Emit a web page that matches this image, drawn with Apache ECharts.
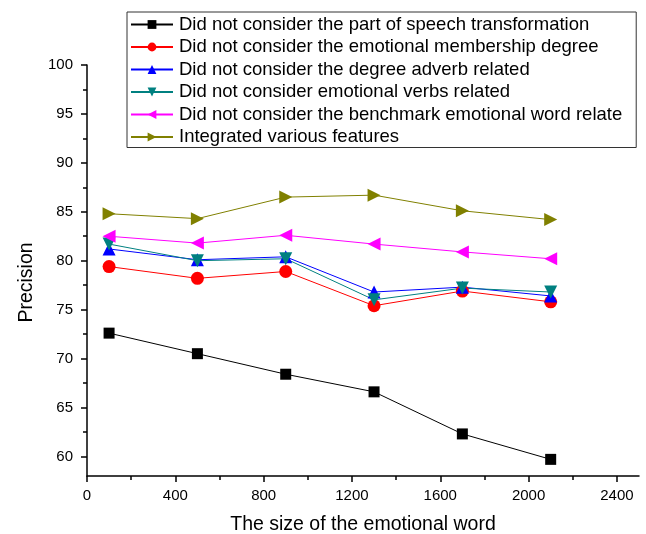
<!DOCTYPE html>
<html>
<head>
<meta charset="utf-8">
<script src="https://cdn.jsdelivr.net/npm/echarts@6/dist/echarts.min.js"></script>
<style>
  html, body { margin: 0; padding: 0; background: #fff; }
  #main { width: 646px; height: 534px; }
</style>
</head>
<body>
<div id="main"></div>
<script>
// word set sizes on the x axis
var sizes = [100, 500, 900, 1300, 1700, 2100];

var seriesNames = [
  'Did not consider the part of speech transformation',
  'Did not consider the emotional membership degree',
  'Did not consider the degree adverb related',
  'Did not consider emotional verbs related',
  'Did not consider the benchmark emotional word relate',
  'Integrated various features'
];

var noPos = [72.6, 70.5, 68.4, 66.6, 62.3, 59.7];
var noMembership = [79.4, 78.2, 78.9, 75.4, 76.9, 75.8];
var noAdverb = [81.2, 80.1, 80.4, 76.8, 77.3, 76.4];
var noVerbs = [81.7, 80.0, 80.2, 76.0, 77.2, 76.8];
var noBenchmark = [82.5, 81.8, 82.6, 81.7, 80.9, 80.2];
var integrated = [84.8, 84.3, 86.5, 86.7, 85.1, 84.2];

var xTicks = [0, 400, 800, 1200, 1600, 2000, 2400];
var xMinor = [200, 600, 1000, 1400, 1800, 2200];
var yTicks = [60, 65, 70, 75, 80, 85, 90, 95, 100];
var yMinor = [62.5, 67.5, 72.5, 77.5, 82.5, 87.5, 92.5, 97.5];

var font = 'Liberation Sans, Arial, sans-serif';

function pairs(vals) {
  return sizes.map(function (s, i) { return [s, vals[i]]; });
}

function makeSeries(name, vals, color, symbol, rotate) {
  return {
    name: name,
    type: 'line',
    data: pairs(vals),
    symbol: symbol,
    symbolSize: symbol === 'rect' ? 11 : 13,
    symbolRotate: rotate,
    showSymbol: true,
    lineStyle: { color: color, width: 1 },
    itemStyle: { color: color },
    z: 3
  };
}

var myChart = echarts.init(document.getElementById('main'));
myChart.setOption({
  animation: false,
  grid: { left: 87, right: 7, top: 65, bottom: 58, outerBoundsMode: 'none' },
  legend: {
    orient: 'vertical',
    left: 127,
    top: 12,
    padding: [3, 14, 1, 3],
    itemWidth: 42,
    itemHeight: 11,
    itemGap: 3.5,
    borderColor: '#333',
    borderWidth: 1,
    textStyle: { fontFamily: font, fontSize: 18.5, color: '#000', padding: [0, 0, 0, 1] },
    data: seriesNames
  },
  xAxis: [
    {
      type: 'value',
      min: 0,
      max: 2500,
      name: 'The size of the emotional word',
      nameLocation: 'middle',
      nameGap: 39,
      nameTextStyle: { fontFamily: font, fontSize: 19.5, color: '#000' },
      axisLine: { show: true, onZero: false, lineStyle: { color: '#000', width: 1.5 } },
      axisTick: { show: true, inside: false, length: 6, customValues: xTicks, lineStyle: { color: '#000', width: 1.5 } },
      axisLabel: {
        customValues: xTicks, margin: 12, fontFamily: font, fontSize: 15, color: '#000',
        formatter: function (v) { return String(v); }
      },
      splitLine: { show: false }
    },
    {
      type: 'value',
      min: 0,
      max: 2500,
      position: 'bottom',
      axisLine: { show: false },
      axisTick: { show: true, length: 4, customValues: xMinor, lineStyle: { color: '#000', width: 1.5 } },
      axisLabel: { show: false },
      splitLine: { show: false }
    }
  ],
  yAxis: [
    {
      type: 'value',
      min: 58,
      max: 100,
      name: 'Precision',
      nameLocation: 'middle',
      nameGap: 40,
      nameTextStyle: { fontFamily: font, fontSize: 19.5, color: '#000', padding: [0, 24, 0, 0] },
      axisLine: { show: true, onZero: false, lineStyle: { color: '#000', width: 1.5 } },
      axisTick: { show: true, length: 6, customValues: yTicks, lineStyle: { color: '#000', width: 1.5 } },
      axisLabel: {
        customValues: yTicks, margin: 14, fontFamily: font, fontSize: 15, color: '#000',
        formatter: function (v) { return String(v); }
      },
      splitLine: { show: false }
    },
    {
      type: 'value',
      min: 58,
      max: 100,
      position: 'left',
      axisLine: { show: false },
      axisTick: { show: true, length: 4, customValues: yMinor, lineStyle: { color: '#000', width: 1.5 } },
      axisLabel: { show: false },
      splitLine: { show: false }
    }
  ],
  series: [
    makeSeries(seriesNames[0], noPos, '#000000', 'rect', 0),
    makeSeries(seriesNames[1], noMembership, '#ff0000', 'circle', 0),
    makeSeries(seriesNames[2], noAdverb, '#0000ff', 'triangle', 0),
    makeSeries(seriesNames[3], noVerbs, '#008080', 'triangle', 180),
    makeSeries(seriesNames[4], noBenchmark, '#ff00ff', 'triangle', 90),
    makeSeries(seriesNames[5], integrated, '#808000', 'triangle', -90)
  ]
});
</script>
</body>
</html>
